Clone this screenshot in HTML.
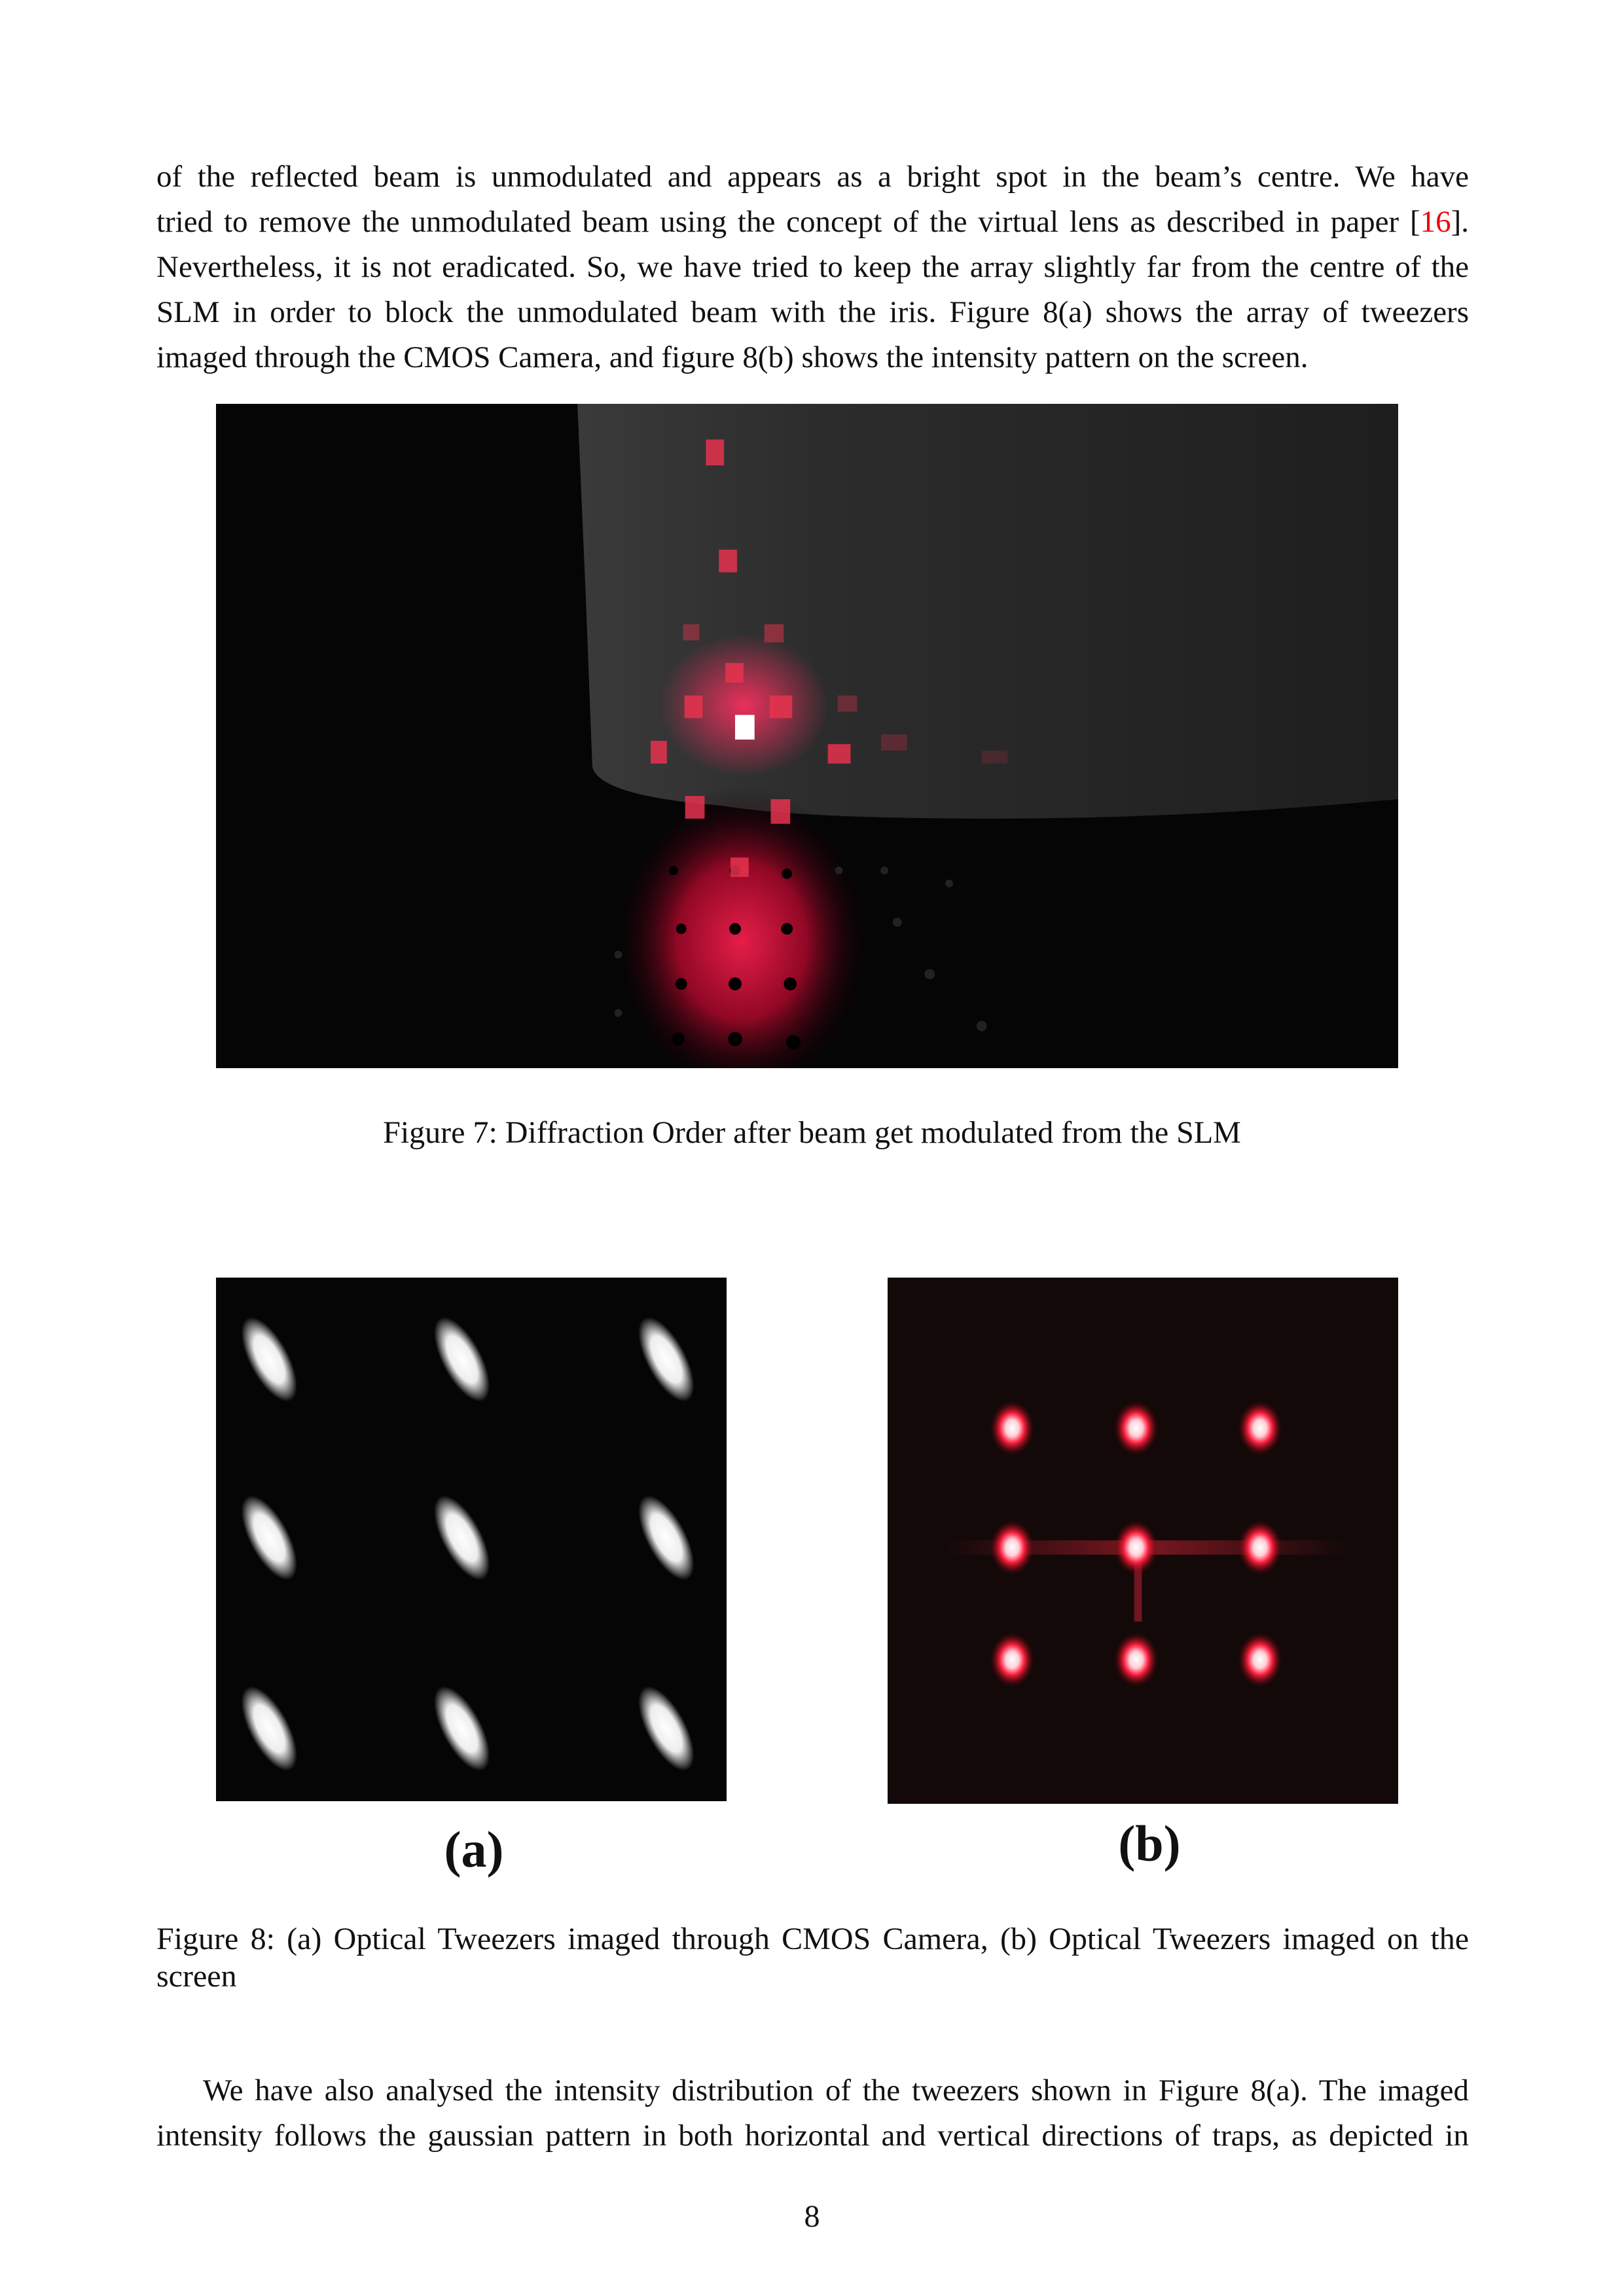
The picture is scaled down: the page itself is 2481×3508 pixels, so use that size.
<!DOCTYPE html>
<html><head><meta charset="utf-8"><style>
html,body{margin:0;padding:0;background:#fff}
body{width:2481px;height:3508px;position:relative;overflow:hidden;font-family:"Liberation Serif",serif;color:#111}
.cap{position:absolute;font-size:48px;line-height:57px}
.ref{color:#e00}
.lab{position:absolute;font-weight:bold;font-size:78px;transform:translate(-50%,-50%)}
.j{text-align:justify;text-align-last:justify;white-space:nowrap}
.l{white-space:nowrap}
</style></head><body>
<div style="position:absolute;left:239px;top:236px;width:2005px;font-size:47px;line-height:69px;">
<div class="j">of the reflected beam is unmodulated and appears as a bright spot in the beam’s centre. We have</div>
<div class="j">tried to remove the unmodulated beam using the concept of the virtual lens as described in paper [<span class="ref">16</span>].</div>
<div class="j">Nevertheless, it is not eradicated. So, we have tried to keep the array slightly far from the centre of the</div>
<div class="j">SLM in order to block the unmodulated beam with the iris. Figure 8(a) shows the array of tweezers</div>
<div class="l">imaged through the CMOS Camera, and figure 8(b) shows the intensity pattern on the screen.</div>
</div>

<svg style="position:absolute;left:330px;top:617px" width="1806" height="1015" viewBox="0 0 1822 1025" preserveAspectRatio="none">
<defs>
<radialGradient id="glow" cx="0.5" cy="0.5" r="0.5"><stop offset="0" stop-color="#ff2050"/><stop offset="0.5" stop-color="#a00828"/><stop offset="1" stop-color="#000" stop-opacity="0"/></radialGradient>
<radialGradient id="cglow" cx="0.5" cy="0.5" r="0.5"><stop offset="0" stop-color="#ff3060" stop-opacity="0.9"/><stop offset="1" stop-color="#ff3060" stop-opacity="0"/></radialGradient>
<linearGradient id="scr" x1="0" y1="0" x2="1" y2="0"><stop offset="0" stop-color="#3a3a3a"/><stop offset="0.3" stop-color="#2c2c2c"/><stop offset="1" stop-color="#1e1e1e"/></linearGradient>
</defs>
<rect width="1822" height="1025" fill="#050505"/>
<path d="M557 0 L1822 0 L1822 610 Q1500 640 1200 640 Q900 640 780 620 Q590 605 580 560 L570 300 Z" fill="url(#scr)"/>
<ellipse cx="810" cy="830" rx="200" ry="240" fill="url(#glow)" opacity="0.9"/>
<g fill="#000">
<circle cx="717" cy="810" r="8"/><circle cx="800" cy="810" r="9"/><circle cx="880" cy="810" r="9"/>
<circle cx="717" cy="895" r="9"/><circle cx="800" cy="895" r="10"/><circle cx="885" cy="895" r="10"/>
<circle cx="712" cy="980" r="10"/><circle cx="800" cy="980" r="11"/><circle cx="890" cy="985" r="11"/>
<circle cx="705" cy="720" r="7"/><circle cx="800" cy="720" r="8"/><circle cx="880" cy="725" r="8"/>
</g>
<g fill="#222"><circle cx="960" cy="720" r="6"/><circle cx="1050" cy="800" r="7"/><circle cx="1100" cy="880" r="8"/><circle cx="1180" cy="960" r="8"/><circle cx="1030" cy="720" r="6"/><circle cx="1130" cy="740" r="6"/><circle cx="620" cy="850" r="6"/><circle cx="620" cy="940" r="6"/></g>
<ellipse cx="814" cy="465" rx="130" ry="110" fill="url(#cglow)"/>
<g fill="#e8334f" opacity="0.85">
<rect x="755" y="55" width="28" height="40"/><rect x="775" y="225" width="28" height="35"/><rect x="720" y="340" width="25" height="25" opacity="0.5"/><rect x="845" y="340" width="30" height="28" opacity="0.6"/><rect x="785" y="400" width="28" height="30"/>
<rect x="722" y="450" width="28" height="35"/><rect x="853" y="450" width="35" height="35"/><rect x="670" y="520" width="25" height="35"/>
<rect x="943" y="525" width="35" height="30"/><rect x="723" y="605" width="30" height="35"/><rect x="855" y="610" width="30" height="38"/><rect x="793" y="700" width="28" height="30"/>
<rect x="958" y="450" width="30" height="25" opacity="0.4"/><rect x="1025" y="510" width="40" height="25" opacity="0.3"/><rect x="1180" y="535" width="40" height="20" opacity="0.2"/>
</g>
<rect x="800" y="480" width="30" height="38" fill="#fff"/>
</svg>
<div class="cap" style="left:0;width:2481px;text-align:center;top:1702px">Figure 7: Diffraction Order after beam get modulated from the SLM</div>

<svg style="position:absolute;left:330px;top:1952px" width="780" height="800" viewBox="0 0 787 807" preserveAspectRatio="none">
<defs><radialGradient id="wg"><stop offset="0" stop-color="#fff"/><stop offset="0.55" stop-color="#eee"/><stop offset="1" stop-color="#fff" stop-opacity="0"/></radialGradient></defs>
<rect width="787" height="807" fill="#050505"/>
<g id="spotsA"></g>
</svg>
<div class="lab" style="left:724px;top:2826px">(a)</div>

<svg style="position:absolute;left:1356px;top:1952px" width="780" height="804" viewBox="0 0 787 811" preserveAspectRatio="none">
<defs><radialGradient id="rg"><stop offset="0" stop-color="#fff"/><stop offset="0.3" stop-color="#ffd0d8"/><stop offset="0.55" stop-color="#ff2040"/><stop offset="1" stop-color="#600" stop-opacity="0"/></radialGradient>
<linearGradient id="hl" x1="0" x2="1"><stop offset="0" stop-color="#c02030" stop-opacity="0"/><stop offset="0.5" stop-color="#c02030" stop-opacity="0.6"/><stop offset="1" stop-color="#c02030" stop-opacity="0"/></linearGradient></defs>
<rect width="787" height="811" fill="#130909"/>
<rect x="90" y="405" width="620" height="22" fill="url(#hl)"/>
<rect x="380" y="420" width="12" height="110" fill="#b02030" opacity="0.6"/>
<g id="spotsB"></g>
</svg>
<div class="lab" style="left:1756px;top:2817px">(b)</div>

<div class="cap" style="left:239px;width:2005px;top:2934px">
<div class="j">Figure 8: (a) Optical Tweezers imaged through CMOS Camera, (b) Optical Tweezers imaged on the</div>
<div>screen</div></div>

<div style="position:absolute;left:239px;top:3160px;width:2005px;font-size:47px;line-height:69px;">
<div class="j" style="text-indent:71px">We have also analysed the intensity distribution of the tweezers shown in Figure 8(a). The imaged</div>
<div class="j">intensity follows the gaussian pattern in both horizontal and vertical directions of traps, as depicted in</div>
</div>
<div class="cap" style="left:0;width:2481px;text-align:center;top:3358px">8</div>

<script>
const aCols=[82,379,694], aRows=[126,401,695];
const bCols=[192,383,574], bRows=[232,416,589];
const NS="http://www.w3.org/2000/svg";
const ga=document.getElementById('spotsA');
aRows.forEach((y,r)=>aCols.forEach((x,c)=>{
 const e=document.createElementNS(NS,'ellipse');
 
 
 e.setAttribute('cx',x);e.setAttribute('cy',y);e.setAttribute('rx',30);e.setAttribute('ry',72);
 e.setAttribute('fill','url(#wg)');e.setAttribute('transform','rotate(-28 '+x+' '+y+')');
 ga.appendChild(e);
}));
const gb=document.getElementById('spotsB');
bRows.forEach((y,r)=>bCols.forEach((x,c)=>{
 const e=document.createElementNS(NS,'ellipse');
 
 
 e.setAttribute('cx',x);e.setAttribute('cy',y);e.setAttribute('rx',34);e.setAttribute('ry',42);
 e.setAttribute('fill','url(#rg)');
 gb.appendChild(e);
}));
</script>
</body></html>
